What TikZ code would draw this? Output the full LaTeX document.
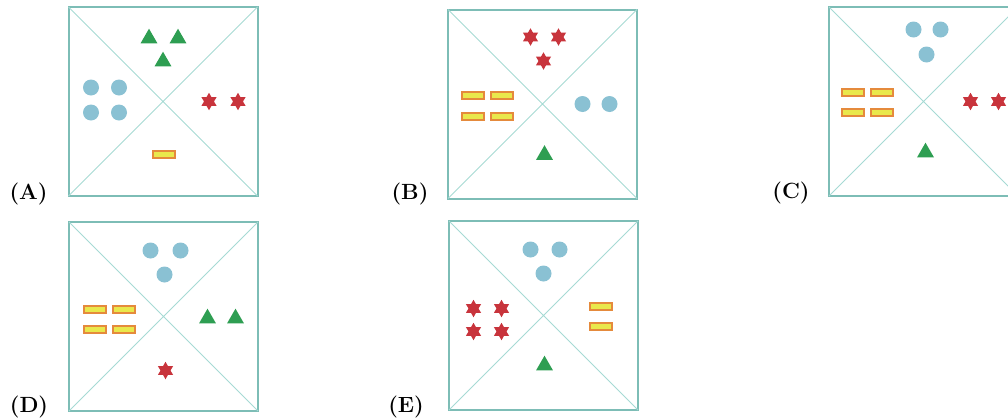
\documentclass[tikz,border=0pt]{standalone}
\usepackage{fontspec}
\usetikzlibrary{shapes.geometric}

\definecolor{framecol}{HTML}{7DBDB6}
\definecolor{diagcol}{HTML}{A6DAD4}
\definecolor{dotblue}{HTML}{8AC1D3}
\definecolor{trigreen}{HTML}{2E9E52}
\definecolor{starred}{HTML}{C8343C}
\definecolor{barfill}{HTML}{E9E84C}
\definecolor{baredge}{HTML}{E58A3C}

\tikzset{
  frame/.style={draw=framecol, line width=2pt},
  diag/.style={draw=diagcol, line width=1pt},
  dot/.style={circle, fill=dotblue, inner sep=0pt, minimum size=16pt},
  tri/.style={regular polygon, regular polygon sides=3, fill=trigreen, inner sep=0pt, minimum size=19.6pt},
  hexstar/.style={star, star points=6, star point ratio=1.75, fill=starred, inner sep=0pt, minimum size=17.5pt},
  bar/.style={rectangle, fill=barfill, draw=baredge, line width=2pt, inner sep=0pt, minimum width=22pt, minimum height=7pt},
  lbl/.style={font=\fontsize{22}{26}\selectfont\bfseries, inner sep=0pt}
}

\begin{document}
\begin{tikzpicture}[x=1pt, y=-1pt]
    \useasboundingbox (0,0) rectangle (1008,418);

    % (A)
    \begin{scope}[shift={(163,101.5)}]
        \draw[frame] (-94.5,-94.5) rectangle (94.5,94.5);
        \draw[diag] (-94.5,-94.5) -- (94.5,94.5) (-94.5,94.5) -- (94.5,-94.5);
        \foreach \x/\y [count=\i] in {-14/-63, 15/-63, 0/-40}
            \node[tri] (A-tri\i) at (\x,\y) {};
        \foreach \x/\y [count=\i] in {-72/-14, -44/-14, -72/11, -44/11}
            \node[dot] (A-dot\i) at (\x,\y) {};
        \foreach \x/\y [count=\i] in {46/0, 75/0}
            \node[hexstar] (A-star\i) at (\x,\y) {};
        \node[bar] (A-bar1) at (1,53) {};
    \end{scope}
    \node[lbl] (labA) at (28.5,194) {(A)};

    % (B)
    \begin{scope}[shift={(542.5,104)}]
        \draw[frame] (-94.5,-94.5) rectangle (94.5,94.5);
        \draw[diag] (-94.5,-94.5) -- (94.5,94.5) (-94.5,94.5) -- (94.5,-94.5);
        \foreach \x/\y [count=\i] in {-12/-67, 16/-67, 1/-43}
            \node[hexstar] (B-star\i) at (\x,\y) {};
        \foreach \x/\y [count=\i] in {-70/-9, -41/-9, -70/12, -41/12}
            \node[bar] (B-bar\i) at (\x,\y) {};
        \foreach \x/\y [count=\i] in {40/0, 67/0}
            \node[dot] (B-dot\i) at (\x,\y) {};
        \node[tri] (B-tri1) at (2,51) {};
    \end{scope}
    \node[lbl] (labB) at (410,194) {(B)};

    % (C)
    \begin{scope}[shift={(923.5,101.5)}]
        \draw[frame] (-94.5,-94.5) rectangle (94.5,94.5);
        \draw[diag] (-94.5,-94.5) -- (94.5,94.5) (-94.5,94.5) -- (94.5,-94.5);
        \foreach \x/\y [count=\i] in {-10/-72, 17/-72, 3/-47}
            \node[dot] (C-dot\i) at (\x,\y) {};
        \foreach \x/\y [count=\i] in {-71/-9, -42/-9, -71/11, -42/11}
            \node[bar] (C-bar\i) at (\x,\y) {};
        \foreach \x/\y [count=\i] in {47/0, 75/0}
            \node[hexstar] (C-star\i) at (\x,\y) {};
        \node[tri] (C-tri1) at (2,51) {};
    \end{scope}
    \node[lbl] (labC) at (791,193) {(C)};

    % (D)
    \begin{scope}[shift={(163.5,316.5)}]
        \draw[frame] (-94.5,-94.5) rectangle (94.5,94.5);
        \draw[diag] (-94.5,-94.5) -- (94.5,94.5) (-94.5,94.5) -- (94.5,-94.5);
        \foreach \x/\y [count=\i] in {-13/-66, 17/-66, 1/-42}
            \node[dot] (D-dot\i) at (\x,\y) {};
        \foreach \x/\y [count=\i] in {-69/-7, -40/-7, -69/13, -40/13}
            \node[bar] (D-bar\i) at (\x,\y) {};
        \foreach \x/\y [count=\i] in {44/2, 72/2}
            \node[tri] (D-tri\i) at (\x,\y) {};
        \node[hexstar] (D-star1) at (2,54) {};
    \end{scope}
    \node[lbl] (labD) at (29,407) {(D)};

    % (E)
    \begin{scope}[shift={(543.5,315.5)}]
        \draw[frame] (-94.5,-94.5) rectangle (94.5,94.5);
        \draw[diag] (-94.5,-94.5) -- (94.5,94.5) (-94.5,94.5) -- (94.5,-94.5);
        \foreach \x/\y [count=\i] in {-13/-66, 16/-66, 0/-42}
            \node[dot] (E-dot\i) at (\x,\y) {};
        \foreach \x/\y [count=\i] in {-70/-7, -42/-7, -70/16, -42/16}
            \node[hexstar] (E-star\i) at (\x,\y) {};
        \foreach \x/\y [count=\i] in {57/-9, 57/11}
            \node[bar] (E-bar\i) at (\x,\y) {};
        \node[tri] (E-tri1) at (1,50) {};
    \end{scope}
    \node[lbl] (labE) at (406,407) {(E)};
\end{tikzpicture}
\end{document}
